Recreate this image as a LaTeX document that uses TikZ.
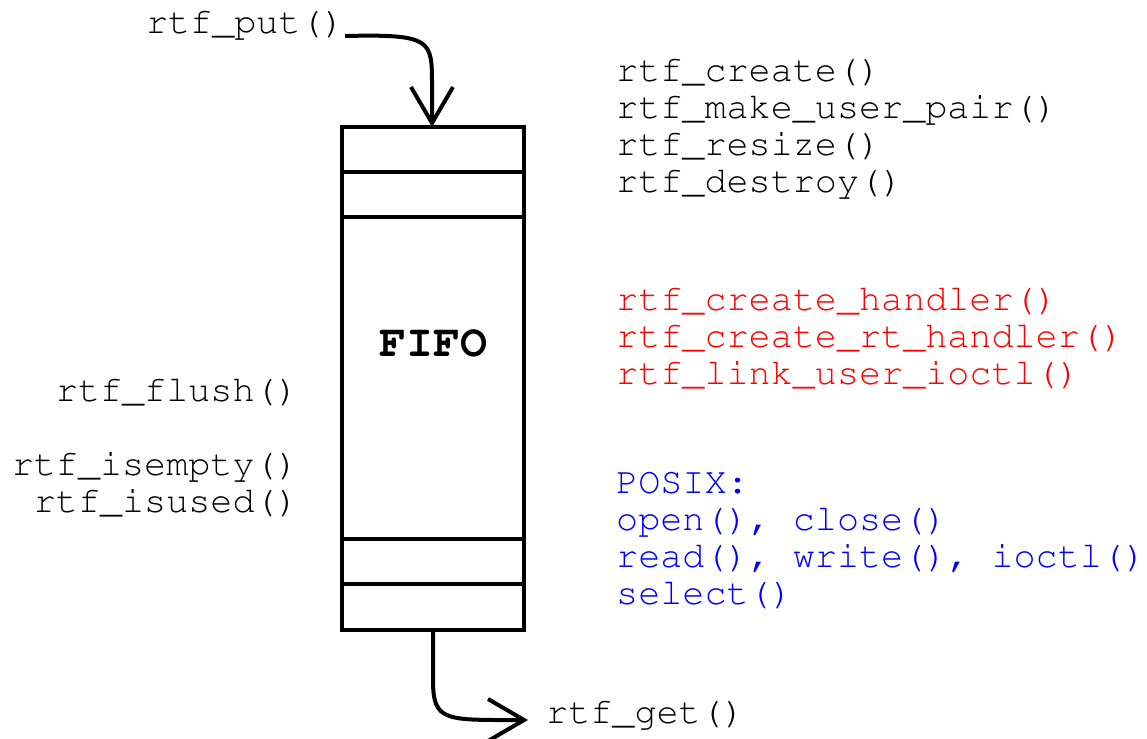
\documentclass[tikz,border=0pt]{standalone}
\usepackage[T1]{fontenc}
\renewcommand\ttdefault{pcr}
\usetikzlibrary{arrows.meta}
\tikzset{
  lbl/.style={inner sep=0pt, font=\ttfamily\fontsize{36.8}{37}\selectfont},
  fifo/.style={line width=4pt},
  flow/.style={line width=4pt, -{Straight Barb[length=36pt, width=42pt, line width=4pt]}},
}
\begin{document}
\begin{tikzpicture}[x=1pt, y=-1pt]
\useasboundingbox (0,0) rectangle (1147,738);

% the FIFO buffer with its slots
\node[draw, fifo, minimum width=182pt, minimum height=503pt, inner sep=0pt] (box) at (433,378.5) {};
\draw[fifo] (box.west |- 0,172) -- (box.east |- 0,172);
\draw[fifo] (box.west |- 0,217) -- (box.east |- 0,217);
\draw[fifo] (box.west |- 0,539) -- (box.east |- 0,539);
\draw[fifo] (box.west |- 0,584) -- (box.east |- 0,584);
\node[inner sep=0pt, anchor=base, font=\ttfamily\bfseries\fontsize{45}{46}\selectfont] (title) at (433,356) {FIFO};

% input and output
\node[lbl, anchor=base east] (put) at (345,34) {rtf\_put()};
\node[lbl, anchor=base west] (get) at (546,723) {rtf\_get()};
\coordinate (in) at (432,127);
\coordinate (out) at (528,720);
\draw[flow] (put.east |- 0,36) .. controls (432,34) and (432,40) .. (432,85) -- (in);
\draw[flow] (433,631) -- (433,680) .. controls (433,722) and (445,720) .. (out);

% left-hand calls
\node[lbl, anchor=base east] (flush) at (299,401) {rtf\_flush()};
\node[lbl, anchor=base east] (isempty) at (299,475) {rtf\_isempty()};
\node[lbl, anchor=base east] (isused) at (299,512) {rtf\_isused()};

% management calls
\node[lbl, anchor=base west] (c1) at (616,82) {rtf\_create()};
\node[lbl, anchor=base west] (c2) at (616,119) {rtf\_make\_user\_pair()};
\node[lbl, anchor=base west] (c3) at (616,156) {rtf\_resize()};
\node[lbl, anchor=base west] (c4) at (616,193) {rtf\_destroy()};

% handler calls
\node[lbl, red, anchor=base west] (h1) at (616,310) {rtf\_create\_handler()};
\node[lbl, red, anchor=base west] (h2) at (616,347) {rtf\_create\_rt\_handler()};
\node[lbl, red, anchor=base west] (h3) at (616,384) {rtf\_link\_user\_ioctl()};

% POSIX interface
\node[lbl, blue, anchor=base west] (p1) at (616,493) {POSIX:};
\node[lbl, blue, anchor=base west] (p2) at (616,530) {open(), close()};
\node[lbl, blue, anchor=base west] (p3) at (616,567) {read(), write(), ioctl()};
\node[lbl, blue, anchor=base west] (p4) at (616,604) {select()};
\end{tikzpicture}
\end{document}
